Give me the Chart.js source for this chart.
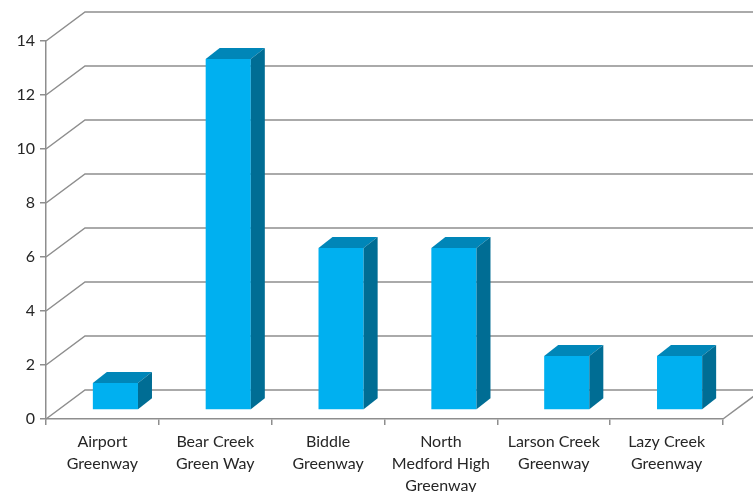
<!DOCTYPE html>
<html lang="en">
<head>
    <meta charset="UTF-8">
    <title>Greenway Counts</title>
    <script src="https://cdn.jsdelivr.net/npm/chart.js"></script>
    <style>
        html, body { margin: 0; padding: 0; background: #fff; }
        .chart-container { width: 753px; height: 492px; }
    </style>
</head>
<body>
    <div class="chart-container">
        <canvas id="barChart"></canvas>
    </div>
    <script>
        const categories = [
            ['Airport', 'Greenway'],
            ['Bear Creek', 'Green Way'],
            ['Biddle', 'Greenway'],
            ['North', 'Medford High', 'Greenway'],
            ['Larson Creek', 'Greenway'],
            ['Lazy Creek', 'Greenway']
        ];
        const counts = [1, 13, 6, 6, 2, 2];
        const yMax = 14;
        const yStep = 2;

        // depth of the 3D box and of the bars
        const DX = 39, DY = 29;
        const BAR_DX = 13, BAR_DY = 9;
        const SIDE_DX = 14, SIDE_DY = 11;
        const lineColor = '#8e8e8e';
        const textColor = '#262626';

        const threeD = {
            id: 'threeD',
            beforeDatasetsDraw(chart) {
                const { ctx, chartArea, scales } = chart;
                const y = scales.y;
                ctx.save();
                ctx.strokeStyle = lineColor;
                ctx.lineWidth = 1.5;
                for (let v = 0; v <= yMax; v += yStep) {
                    const py = y.getPixelForValue(v);
                    ctx.beginPath();
                    ctx.moveTo(chartArea.left, py);
                    ctx.lineTo(chartArea.left + DX, py - DY);
                    ctx.lineTo(chartArea.right + DX, py - DY);
                    ctx.stroke();
                }
                // right edge of the floor
                const p0 = y.getPixelForValue(0);
                ctx.beginPath();
                ctx.moveTo(chartArea.right, p0);
                ctx.lineTo(chartArea.right + DX, p0 - DY);
                ctx.stroke();
                ctx.restore();
                // shift the front faces into the box
                ctx.save();
                ctx.translate(BAR_DX, -BAR_DY);
            },
            afterDatasetsDraw(chart) {
                const { ctx } = chart;
                ctx.restore();
                const meta = chart.getDatasetMeta(0);
                ctx.save();
                meta.data.forEach(bar => {
                    const x1 = bar.x - bar.width / 2 + BAR_DX;
                    const x2 = bar.x + bar.width / 2 + BAR_DX;
                    const yt = bar.y - BAR_DY;
                    const yb = bar.base - BAR_DY;
                    // top
                    ctx.fillStyle = '#0086B8';
                    ctx.beginPath();
                    ctx.moveTo(x1, yt);
                    ctx.lineTo(x2, yt);
                    ctx.lineTo(x2 + SIDE_DX, yt - SIDE_DY);
                    ctx.lineTo(x1 + SIDE_DX, yt - SIDE_DY);
                    ctx.closePath();
                    ctx.fill();
                    // side
                    ctx.fillStyle = '#006D94';
                    ctx.beginPath();
                    ctx.moveTo(x2, yt);
                    ctx.lineTo(x2, yb);
                    ctx.lineTo(x2 + SIDE_DX, yb - SIDE_DY);
                    ctx.lineTo(x2 + SIDE_DX, yt - SIDE_DY);
                    ctx.closePath();
                    ctx.fill();
                });
                ctx.restore();
            }
        };

        const ctx = document.getElementById('barChart').getContext('2d');
        new Chart(ctx, {
            type: 'bar',
            data: {
                labels: categories,
                datasets: [{
                    label: 'Count',
                    data: counts,
                    backgroundColor: '#00B0F0',
                    borderWidth: 0,
                    barPercentage: 0.4,
                    categoryPercentage: 1
                }]
            },
            options: {
                responsive: true,
                maintainAspectRatio: false,
                animation: false,
                layout: { padding: { top: 41, right: 30, left: 0, bottom: 0 } },
                plugins: {
                    legend: { display: false },
                    tooltip: { enabled: false }
                },
                scales: {
                    x: {
                        offset: true,
                        afterFit: s => { s.height = 73; },
                        grid: {
                            offset: true,
                            drawOnChartArea: false,
                            tickLength: 6,
                            color: lineColor,
                            lineWidth: 1.5
                        },
                        border: { color: lineColor, width: 1.5 },
                        ticks: {
                            color: textColor,
                            padding: 6,
                            maxRotation: 0,
                            autoSkip: false,
                            font: { family: 'Lato', size: 16, lineHeight: 1.375 }
                        }
                    },
                    y: {
                        min: 0,
                        max: yMax,
                        afterFit: s => { s.width = 46; },
                        grid: {
                            drawOnChartArea: false,
                            tickLength: 6,
                            color: lineColor,
                            lineWidth: 1.5
                        },
                        border: { color: lineColor, width: 1.5 },
                        ticks: {
                            stepSize: yStep,
                            color: textColor,
                            padding: 5,
                            font: { family: 'Lato', size: 16 }
                        }
                    }
                }
            },
            plugins: [threeD]
        });
    </script>
</body>
</html>
